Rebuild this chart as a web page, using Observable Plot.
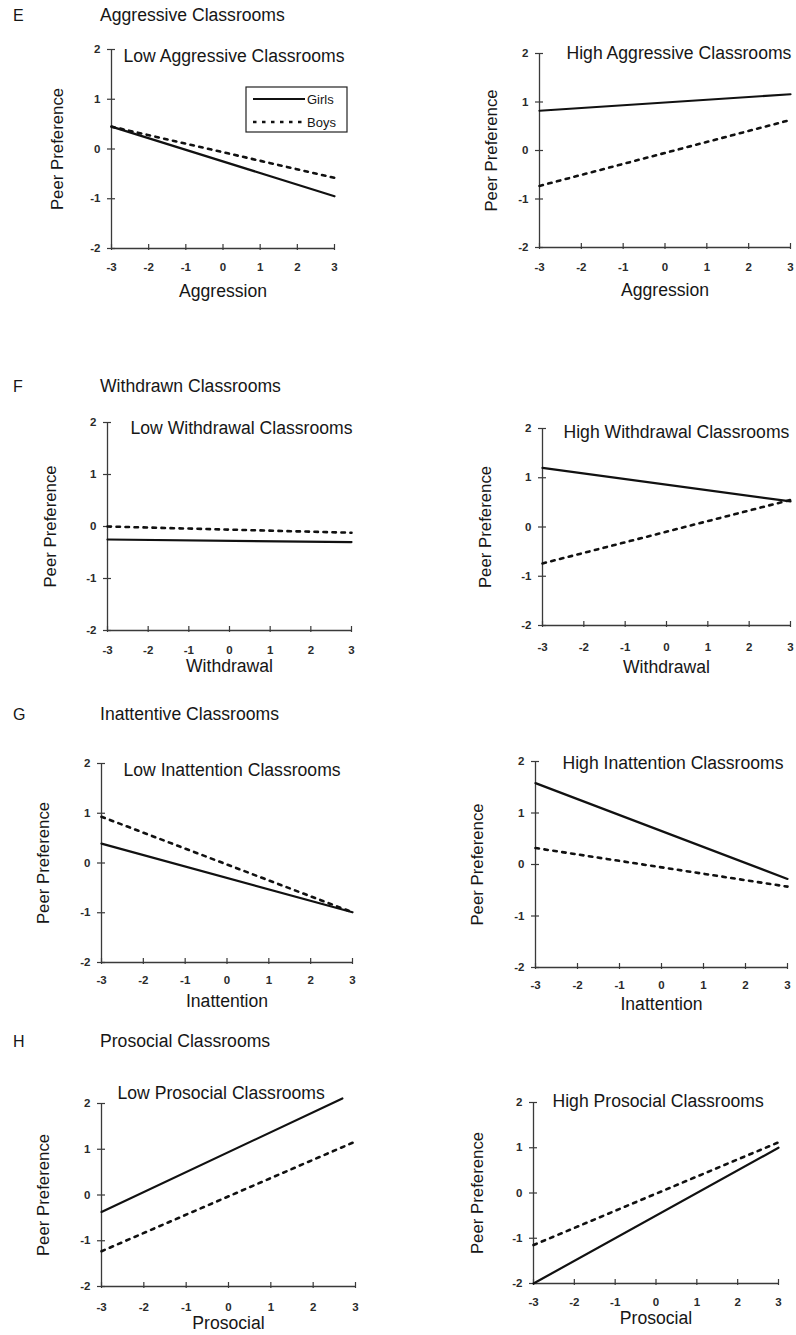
<!DOCTYPE html>
<html><head><meta charset="utf-8">
<script src="https://cdn.jsdelivr.net/npm/d3@7"></script>
<script src="https://cdn.jsdelivr.net/npm/@observablehq/plot@0.6"></script>
<style>
html,body{margin:0;padding:0;background:#fff;overflow:hidden}
body{font-family:"Liberation Sans",Arial,sans-serif;color:#161616}
#root{position:relative;width:796px;height:1335px;overflow:hidden}
.abs{position:absolute;white-space:nowrap;line-height:1}
.plotbox{position:absolute}
</style></head><body><div id="root"></div>
<script>
// ---------- data ----------
const xTicks = [-3, -2, -1, 0, 1, 2, 3];
const yTicks = [-2, -1, 0, 1, 2];
const seriesNames = ["Girls", "Boys"];
const yLabel = "Peer Preference";

const sectionLetters = ["E", "F", "G", "H"];
const sectionTitles = ["Aggressive Classrooms", "Withdrawn Classrooms", "Inattentive Classrooms", "Prosocial Classrooms"];

const panelTitles = [
  "Low Aggressive Classrooms", "High Aggressive Classrooms",
  "Low Withdrawal Classrooms", "High Withdrawal Classrooms",
  "Low Inattention Classrooms", "High Inattention Classrooms",
  "Low Prosocial Classrooms", "High Prosocial Classrooms"
];
const xLabels = ["Aggression", "Aggression", "Withdrawal", "Withdrawal", "Inattention", "Inattention", "Prosocial", "Prosocial"];

// [x, peer preference] end points of each simple slope
const aggLowGirls = [[-3, 0.45], [3, -0.95]];
const aggLowBoys = [[-3, 0.45], [3, -0.58]];
const aggHighGirls = [[-3, 0.82], [3, 1.16]];
const aggHighBoys = [[-3, -0.73], [3, 0.63]];
const wdLowGirls = [[-3, -0.25], [3, -0.30]];
const wdLowBoys = [[-3, 0.00], [3, -0.12]];
const wdHighGirls = [[-3, 1.20], [3, 0.52]];
const wdHighBoys = [[-3, -0.74], [3, 0.55]];
const inLowGirls = [[-3, 0.39], [3, -0.99]];
const inLowBoys = [[-3, 0.93], [3, -0.99]];
const inHighGirls = [[-3, 1.58], [3, -0.28]];
const inHighBoys = [[-3, 0.32], [3, -0.43]];
const proLowGirls = [[-3, -0.37], [2.69, 2.11]];
const proLowBoys = [[-3, -1.23], [3, 1.17]];
const proHighGirls = [[-3, -2.0], [3, 1.0]];
const proHighBoys = [[-3, -1.15], [3, 1.12]];

const girlsSeries = [aggLowGirls, aggHighGirls, wdLowGirls, wdHighGirls, inLowGirls, inHighGirls, proLowGirls, proHighGirls];
const boysSeries = [aggLowBoys, aggHighBoys, wdLowBoys, wdHighBoys, inLowBoys, inHighBoys, proLowBoys, proHighBoys];

// ---------- layout (pixels) ----------
const sectionPos = [{y: 16}, {y: 387}, {y: 715}, {y: 1042}];
const panelLayout = [
  {left: 111, right: 334, top: 49, bottom: 248, tOff: 19, lOff: 43, yl: 54, tdx: 12, tdy: 7},
  {left: 539, right: 790, top: 53, bottom: 247, tOff: 20, lOff: 43, yl: 48, tdx: 27, tdy: 0},
  {left: 107, right: 351, top: 422, bottom: 630, tOff: 20, lOff: 36, yl: 57, tdx: 23, tdy: 6},
  {left: 542, right: 790, top: 428, bottom: 625, tOff: 22, lOff: 42, yl: 57, tdx: 21, tdy: 4},
  {left: 101, right: 352, top: 763, bottom: 962, tOff: 18, lOff: 39, yl: 58, tdx: 22, tdy: 7},
  {left: 535, right: 787, top: 761, bottom: 967, tOff: 18, lOff: 37, yl: 58, tdx: 27, tdy: 2},
  {left: 101, right: 355, top: 1103, bottom: 1286, tOff: 21, lOff: 37, yl: 58, tdx: 16, tdy: -10},
  {left: 533, right: 778, top: 1102, bottom: 1283, tOff: 19, lOff: 35, yl: 56, tdx: 19, tdy: -1}
];

const ink = "#161616";
const axisInk = "#3a3a3a";
const font = "'Liberation Sans', Arial, sans-serif";
const root = document.getElementById("root");

// section headers
sectionLetters.forEach((s, i) => {
  const a = document.createElement("div");
  a.className = "abs"; a.textContent = s;
  a.style.left = "13px"; a.style.top = (sectionPos[i].y - 8) + "px"; a.style.fontSize = "16px";
  root.appendChild(a);
  const b = document.createElement("div");
  b.className = "abs"; b.textContent = sectionTitles[i];
  b.style.left = "100px"; b.style.top = (sectionPos[i].y - 9) + "px"; b.style.fontSize = "17.6px";
  root.appendChild(b);
});

const toRows = (pts, name) => pts.map(([x, y]) => ({x, y, series: name}));

panelLayout.forEach((L, i) => {
  const m = {l: 70, r: 6, t: 30, b: 60};
  const w = L.right - L.left, h = L.bottom - L.top;
  const girls = toRows(girlsSeries[i], seriesNames[0]);
  const boys = toRows(boysSeries[i], seriesNames[1]);
  const chart = Plot.plot({
    width: w + m.l + m.r, height: h + m.t + m.b,
    marginLeft: m.l, marginRight: m.r, marginTop: m.t, marginBottom: m.b,
    x: {domain: [-3, 3], label: null},
    y: {domain: [-2, 2], label: null},
    style: {fontFamily: font, fontSize: "12px", color: ink, background: "transparent", overflow: "visible"},
    marks: [
      Plot.ruleX([-3], {stroke: axisInk, strokeWidth: 1.3}),
      Plot.ruleY([-2], {stroke: axisInk, strokeWidth: 1.3}),
      Plot.ruleX(xTicks, {y1: -2, y2: -2, insetTop: -4, insetBottom: -2, stroke: axisInk, strokeWidth: 1.2}),
      Plot.ruleY(yTicks, {x1: -3, x2: -3, insetLeft: -4, insetRight: -4, stroke: axisInk, strokeWidth: 1.2}),
      Plot.axisX({ticks: xTicks, tickSize: 0, tickPadding: L.tOff - 4.3, tickFormat: d => String(d), fontSize: 11.5, fontWeight: "bold", fill: "#2a2a2a", label: null}),
      Plot.axisY({ticks: yTicks, tickSize: 0, tickPadding: 11, tickFormat: d => String(d), fontSize: 11.5, fontWeight: "bold", fill: "#2a2a2a", label: null}),
      Plot.line(girls, {x: "x", y: "y", stroke: "#111", strokeWidth: 2.2}),
      Plot.line(boys, {x: "x", y: "y", stroke: "#111", strokeWidth: 2.6, strokeDasharray: "3.5,5.5"}),
      Plot.text([xLabels[i]], {frameAnchor: "bottom", dy: L.lOff, fontSize: 17.6, textAnchor: "middle", lineAnchor: "middle", fill: ink}),
      Plot.text([yLabel], {frameAnchor: "left", dx: -L.yl, rotate: -90, fontSize: 16.8, textAnchor: "middle", lineAnchor: "middle", fill: ink}),
      Plot.text([panelTitles[i]], {frameAnchor: "top-left", dx: L.tdx, dy: L.tdy, textAnchor: "start", lineAnchor: "middle", fontSize: 17.6, fill: ink})
    ]
  });
  const box = document.createElement("div");
  box.className = "plotbox";
  box.style.left = (L.left - m.l) + "px";
  box.style.top = (L.top - m.t) + "px";
  box.appendChild(chart);
  root.appendChild(box);
});

// legend (first panel)
const leg = d3.create("svg").attr("width", 103).attr("height", 47)
  .style("position", "absolute").style("left", "245px").style("top", "86px").style("overflow", "visible");
leg.append("rect").attr("x", 1).attr("y", 1).attr("width", 101).attr("height", 45)
  .attr("fill", "#fff").attr("stroke", "#222").attr("stroke-width", 1.2);
const legRows = [{name: seriesNames[0], dash: null, sw: 2.2, y: 13}, {name: seriesNames[1], dash: "3.5,5.5", sw: 2.6, y: 36}];
legRows.forEach(r => {
  const ln = leg.append("line").attr("x1", 8).attr("x2", 60).attr("y1", r.y).attr("y2", r.y)
    .attr("stroke", "#111").attr("stroke-width", r.sw);
  if (r.dash) ln.attr("stroke-dasharray", r.dash);
  leg.append("text").attr("x", 62).attr("y", r.y).attr("dy", "0.35em")
    .attr("font-family", font).attr("font-size", 13).attr("fill", ink).text(r.name);
});
root.appendChild(leg.node());
</script>
</body></html>
